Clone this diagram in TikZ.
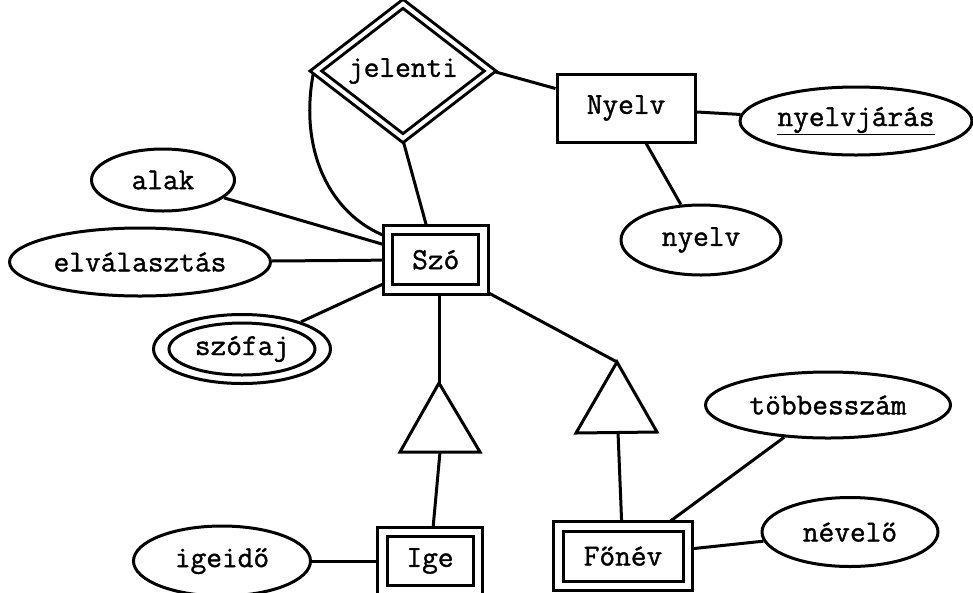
\documentclass[tikz,border=0pt]{standalone}
\usepackage{fontspec}
\newfontfamily\ermono{Latin Modern Mono}[FakeBold=1.2]
\usetikzlibrary{shapes.geometric,backgrounds}
\begin{document}
\begin{tikzpicture}[x=1pt,y=-1pt, line width=3pt, font=\ermono\fontsize{30.5}{32}\selectfont,
  attr/.style={ellipse, draw, fill=white, inner sep=0pt},
  ent/.style={rectangle, draw, fill=white, inner sep=0pt},
  weak/.style={rectangle, draw, fill=white, double, double distance=6.5pt, inner sep=0pt},
  rel/.style={diamond, draw, fill=white, double, double distance=4pt, inner sep=0pt},
  tri/.style={draw, line join=miter, fill=white},
  conn/.style={draw, line width=3pt}]
\useasboundingbox (0,0) rectangle (973,592);

\node[rel, minimum width=175.5pt, minimum height=106pt] (jel) at (403,71) {\raisebox{-3pt}{jelenti}};
\node[ent, minimum width=138pt, minimum height=68pt] (nyelv) at (626,108) {Nyelv};
\node[attr, minimum width=232pt, minimum height=68pt] (nyj) at (856,121) {\underline{nyelvjárás}};
\node[attr, minimum width=160pt, minimum height=70pt] (nyelva) at (701,240) {nyelv};
\node[weak, minimum width=95.5pt, minimum height=59.5pt] (szo) at (435.75,259.75) {Szó};
\node[attr, minimum width=143pt, minimum height=62pt] (alak) at (163,180) {alak};
\node[attr, minimum width=261pt, minimum height=68pt] (elv) at (140,262) {elválasztás};
\node[attr, minimum width=177pt, minimum height=69pt] (szf) at (242,349) {szófaj};
\draw (szf.center) ellipse [x radius=73, y radius=26];
\node[weak, minimum width=95.5pt, minimum height=58.5pt] (ige) at (430,561) {Ige};
\node[weak, minimum width=129.5pt, minimum height=59.5pt] (fonev) at (623,556) {Főnév};
\node[attr, minimum width=177pt, minimum height=70pt] (igeido) at (222,561) {igeidő};
\node[attr, minimum width=245pt, minimum height=66pt] (tobb) at (828,405) {többesszám};
\node[attr, minimum width=176pt, minimum height=69pt] (nevelo) at (850,532) {névelő};

\coordinate (t1a) at (439,383);
\coordinate (t1l) at (400,452);
\coordinate (t1r) at (480,452);
\coordinate (t1b) at (440,452);
\draw[tri] (t1a) -- (t1l) -- (t1r) -- cycle;
\coordinate (t2a) at (617,362);
\coordinate (t2l) at (576,433);
\coordinate (t2r) at (657,432);
\coordinate (t2b) at (618,432);
\draw[tri] (t2a) -- (t2l) -- (t2r) -- cycle;

\begin{pgfonlayer}{background}
\path[conn] (jel.east) -- (nyelv);
\path[conn] (nyelv) -- (nyj);
\path[conn] (nyelv) -- (nyelva);
\path[conn] (jel.south) -- (szo);
\path[conn] (jel.west) .. controls (298,150) and (330,215) .. ([yshift=-8pt]szo.north west);
\path[conn] (alak) -- (szo);
\path[conn] (elv) -- (szo);
\path[conn] (szf) -- (szo);
\path[conn] (szo.south -| t1a) -- (t1a);
\path[conn] (szo.south east) -- (t2a);
\path[conn] (t1b) -- (ige);
\path[conn] (t2b) -- (fonev);
\path[conn] (tobb) -- (fonev);
\path[conn] (nevelo) -- (fonev);
\path[conn] (igeido) -- (ige);
\end{pgfonlayer}
\end{tikzpicture}
\end{document}
